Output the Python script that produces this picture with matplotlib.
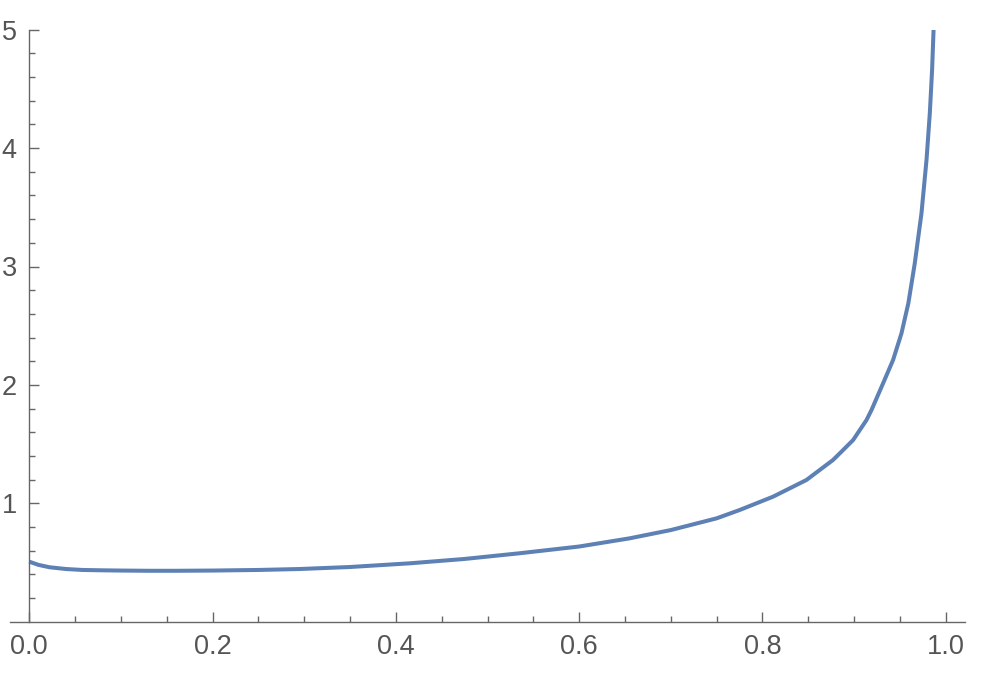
import matplotlib
matplotlib.use("Agg")
import matplotlib.pyplot as plt
from matplotlib.ticker import MultipleLocator, FixedLocator

# curve
x_vals = [0.0, 0.01, 0.022, 0.04, 0.058, 0.08, 0.1, 0.13, 0.16, 0.2, 0.25,
          0.295, 0.35, 0.415, 0.475, 0.535, 0.6, 0.655, 0.7, 0.75, 0.775,
          0.8116, 0.848, 0.877, 0.8862, 0.8989, 0.9135, 0.919, 0.9316,
          0.9425, 0.9517, 0.9592, 0.9662, 0.9735, 0.979, 0.9826, 0.9851,
          0.9867]
y_vals = [0.507, 0.48, 0.46, 0.445, 0.437, 0.434, 0.432, 0.430, 0.430, 0.432,
          0.437, 0.445, 0.462, 0.493, 0.53, 0.578, 0.635, 0.704, 0.774,
          0.873, 0.943, 1.056, 1.197, 1.366, 1.436, 1.534, 1.703, 1.788,
          2.013, 2.21, 2.436, 2.69, 3.027, 3.449, 3.90, 4.294, 4.66, 5.0]

x_ticks = [0.0, 0.2, 0.4, 0.6, 0.8, 1.0]
x_labels = ["0.0", "0.2", "0.4", "0.6", "0.8", "1.0"]
y_ticks = [1, 2, 3, 4, 5]
y_labels = ["1", "2", "3", "4", "5"]

axis_col = "#666666"
text_col = "#555555"
line_col = "#5E81B5"

plt.rcParams['font.family'] = ['Liberation Sans', 'DejaVu Sans']

fig = plt.figure(figsize=(9.9, 6.78), dpi=100)
ax = fig.add_axes([10 / 990, (678 - 621.7) / 678, 955 / 990, 592 / 678])

ax.plot(x_vals, y_vals, color=line_col, lw=2.9, solid_capstyle='butt',
        solid_joinstyle='round')

ax.set_xlim(-0.021, 1.021)
ax.set_ylim(0, 5)

for s in ['top', 'right']:
    ax.spines[s].set_visible(False)
ax.spines['left'].set_position(('data', 0))
ax.spines['bottom'].set_position(('data', 0))
ax.spines['left'].set_bounds(0, 5)
for s in ['left', 'bottom']:
    ax.spines[s].set_color(axis_col)
    ax.spines[s].set_linewidth(1.0)

ax.xaxis.set_major_locator(FixedLocator(x_ticks))
ax.set_xticklabels(x_labels)
ax.xaxis.set_minor_locator(MultipleLocator(0.05))
ax.yaxis.set_major_locator(FixedLocator(y_ticks))
ax.set_yticklabels(y_labels)
ax.yaxis.set_minor_locator(FixedLocator([v / 5 for v in range(1, 25) if v % 5]))

ax.tick_params(which='major', direction='in', length=7.5, width=1.0,
               color=axis_col, labelcolor=text_col, labelsize=19.5, pad=9)
ax.tick_params(which='minor', direction='in', length=4.6, width=1.0,
               color=axis_col)

fig.savefig("out.png", dpi=100)
